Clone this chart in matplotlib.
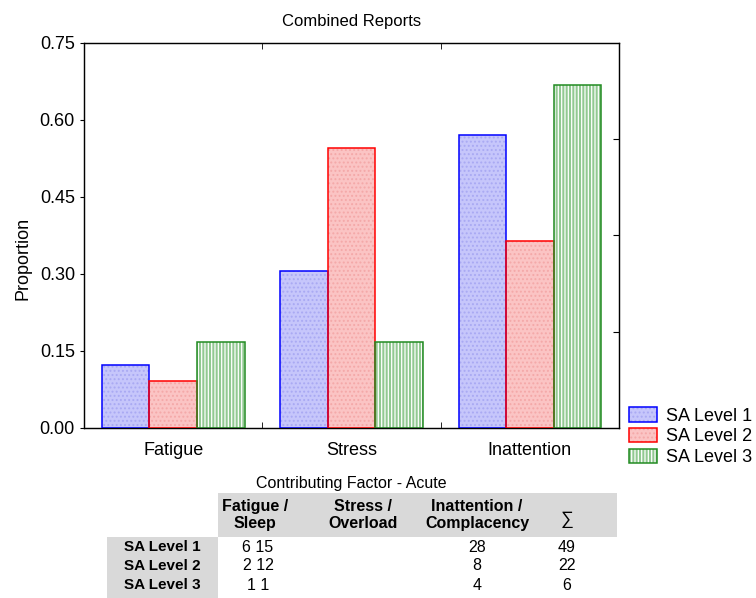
import matplotlib
matplotlib.use("Agg")
import matplotlib.pyplot as plt
from matplotlib.patches import Patch, Rectangle
import numpy as np

plt.rcParams['font.family'] = ['Liberation Sans', 'DejaVu Sans']
plt.rcParams['hatch.linewidth'] = 0.9

# data
categories = ['Fatigue', 'Stress', 'Inattention']
series_names = ['SA Level 1', 'SA Level 2', 'SA Level 3']
sa1 = [0.122, 0.306, 0.571]
sa2 = [0.091, 0.545, 0.364]
sa3 = [0.167, 0.167, 0.667]

# table under the chart (as printed, incl. the shifted Stress counts)
col_heads = ['Fatigue /\nSleep', 'Stress /\nOverload', 'Inattention /\nComplacency']
row_heads = ['SA Level 1', 'SA Level 2', 'SA Level 3']
fatigue_cells = ['6 15', '2 12', '1 1']
inatt_cells = ['28', '8', '4']
sum_cells = ['49', '22', '6']

W, H = 756, 598
fig = plt.figure(figsize=(W / 100, H / 100), dpi=100)
ax = fig.add_axes([84 / W, 1 - 428 / H, (619 - 84) / W, (428 - 42.6) / H])

styles = [
    dict(face='#c6c6fb', hatch='....', hcol='#a9a9f3', edge='#0000ff'),
    dict(face='#fbc4c4', hatch='....', hcol='#f4a8a8', edge='#ff0000'),
    dict(face='#92c992', hatch='|||||', hcol='#ffffff', edge='#228b22'),
]
x = np.arange(len(categories))
w = 0.8 / 3
for i, (vals, st) in enumerate(zip([sa1, sa2, sa3], styles)):
    pos = x + (i - 1) * w
    ax.bar(pos, vals, w, color=st['face'], hatch=st['hatch'], edgecolor=st['hcol'],
           linewidth=0, zorder=2)
    ax.bar(pos, vals, w, fill=False, edgecolor=st['edge'], linewidth=1.1, zorder=3)

ax.set_xlim(-0.5, 2.5)
ax.set_ylim(0, 0.75)
ax.set_yticks([0, 0.15, 0.30, 0.45, 0.60, 0.75])
ax.set_yticklabels(['%.2f' % v for v in [0, 0.15, 0.30, 0.45, 0.60, 0.75]])
ax.set_xticks(x)
ax.set_xticklabels(categories)
ax.set_xticks([0.5, 1.5], minor=True)
ax.tick_params(axis='x', which='major', length=0, labelsize=13, pad=10)
ax.tick_params(axis='x', which='minor', direction='in', length=4, top=True)
ax.tick_params(axis='y', which='major', direction='out', length=3, labelsize=13)
for s in ax.spines.values():
    s.set_linewidth(1.0)
    s.set_color('#222222')

# right-hand inner ticks at quarter heights
ax2 = ax.twinx()
ax2.set_ylim(0, 1)
ax2.set_yticks([0.25, 0.5, 0.75])
ax2.set_yticklabels([])
ax2.tick_params(axis='y', direction='in', length=4)

ax.set_title('Combined Reports', fontsize=12, pad=12)
ax.set_ylabel('Proportion', fontsize=13)
ax.yaxis.set_label_coords(-0.099, 0.44)
ax.set_xlabel('Contributing Factor - Acute', fontsize=11.5, labelpad=12)

handles = [(Patch(facecolor=st['face'], hatch=st['hatch'], edgecolor=st['hcol'], linewidth=0),
            Patch(fill=False, edgecolor=st['edge'], linewidth=1.1))
           for st in styles]
fig.legend(handles, series_names, loc='upper left',
           bbox_to_anchor=(622 / W, 1 - 400 / H), frameon=False, fontsize=13,
           handlelength=1.55, handleheight=0.85, labelspacing=0.18,
           handletextpad=0.5, borderaxespad=0)

# table
gray = '#d9d9d9'
fig.patches.append(Rectangle((218 / W, 1 - 537 / H), (617 - 218) / W, 44 / H,
                             transform=fig.transFigure, facecolor=gray,
                             edgecolor='none', zorder=0))
fig.patches.append(Rectangle((107 / W, 0), (218 - 107) / W, (H - 537) / H,
                             transform=fig.transFigure, facecolor=gray,
                             edgecolor='none', zorder=0))
col_x = [255, 363, 477]
for cx, txt in zip(col_x, col_heads):
    fig.text(cx / W, 1 - 515 / H, txt, ha='center', va='center', fontsize=11.5,
             fontweight='bold', linespacing=1.15)
fig.text(567 / W, 1 - 519 / H, '\u2211', ha='center', va='center', fontsize=13)
row_y = [547, 566, 585]
for ry, rh, f, ia, sm in zip(row_y, row_heads, fatigue_cells, inatt_cells, sum_cells):
    fig.text(162 / W, 1 - ry / H, rh, ha='center', va='center', fontsize=11,
             fontweight='bold')
    fig.text(258 / W, 1 - ry / H, f, ha='center', va='center', fontsize=11.5)
    fig.text(477 / W, 1 - ry / H, ia, ha='center', va='center', fontsize=11.5)
    fig.text(567 / W, 1 - ry / H, sm, ha='center', va='center', fontsize=11.5)

fig.savefig('out.png', dpi=100)
